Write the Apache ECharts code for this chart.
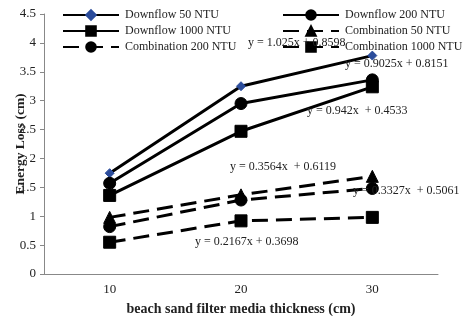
<!DOCTYPE html>
<html>
<head>
<meta charset="utf-8">
<script src="https://cdn.jsdelivr.net/npm/echarts@6/dist/echarts.min.js"></script>
<style>html,body{margin:0;padding:0;background:#fff}#c{width:470px;height:316px}</style>
</head>
<body>
<div id="c"></div>
<script>
const categories = ['10', '20', '30'];
const downflow50 = [1.745, 3.25, 3.78];
const downflow200 = [1.57, 2.95, 3.36];
const downflow1000 = [1.36, 2.47, 3.24];
const combination50 = [0.98, 1.37, 1.69];
const combination200 = [0.82, 1.28, 1.48];
const combination1000 = [0.55, 0.92, 0.98];
const seriesNames = ['Downflow 50 NTU', 'Downflow 200 NTU', 'Downflow 1000 NTU', 'Combination 50 NTU', 'Combination 200 NTU', 'Combination 1000 NTU'];
const equations = ['y = 1.025x + 0.8598', 'y = 0.9025x + 0.8151', 'y = 0.942x  + 0.4533', 'y = 0.3564x  + 0.6119', 'y = 0.3327x  + 0.5061', 'y = 0.2167x + 0.3698'];
const yTicks = {min: 0, max: 4.5, interval: 0.5};

const FONT = '"Liberation Serif", "Times New Roman", serif';
const chart = echarts.init(document.getElementById('c'), null, {renderer: 'canvas'});

function mk(name, data, symbol, size, dashed, color) {
  return {
    name, type: 'line', data, symbol, symbolSize: size,
    lineStyle: {color: '#000', width: 3, type: dashed ? [16, 8] : 'solid'},
    itemStyle: {color: color || '#000', borderColor: color || '#000', borderWidth: 1},
    emphasis: {disabled: true}, animation: false, z: 3
  };
}

const eqPos = [[248, 44], [345, 65], [307, 112], [230, 168], [353, 192], [195, 243]];

chart.setOption({
  animation: false,
  grid: {left: 44, right: 32, top: 14, bottom: 42, outerBoundsMode: 'none', containLabel: false},
  xAxis: {
    type: 'category', data: categories, boundaryGap: true,
    axisLine: {lineStyle: {color: '#888', width: 1}},
    axisTick: {show: false},
    axisLabel: {color: '#222', fontFamily: FONT, fontSize: 13, margin: 9},
    name: 'beach sand filter media thickness (cm)', nameLocation: 'middle', nameGap: 28, nameMoveOverlap: false,
    nameTextStyle: {color: '#222', fontFamily: FONT, fontSize: 14, fontWeight: 'bold'}
  },
  yAxis: {
    type: 'value', min: yTicks.min, max: yTicks.max, interval: yTicks.interval,
    axisLine: {show: true, lineStyle: {color: '#888', width: 1}},
    axisTick: {show: true, length: 4, lineStyle: {color: '#888'}},
    splitLine: {show: false},
    axisLabel: {color: '#222', fontFamily: FONT, fontSize: 13, margin: 8},
    name: 'Energy Loss (cm)', nameLocation: 'middle', nameGap: 16, nameMoveOverlap: false,
    nameTextStyle: {color: '#222', fontFamily: FONT, fontSize: 13.5, fontWeight: 'bold'}
  },
  legend: [
    {data: [seriesNames[0], seriesNames[2], seriesNames[4]], orient: 'vertical', left: 62, top: 9, padding: 0,
     itemWidth: 56, itemHeight: 12, itemGap: 4, textStyle: {color: '#222', fontFamily: FONT, fontSize: 12, padding: [0, 0, 0, 1]}},
    {data: [seriesNames[1], seriesNames[3], seriesNames[5]], orient: 'vertical', left: 282, top: 9, padding: 0,
     itemWidth: 56, itemHeight: 12, itemGap: 4, textStyle: {color: '#222', fontFamily: FONT, fontSize: 12, padding: [0, 0, 0, 1]}}
  ],
  graphic: equations.map((t, i) => ({
    type: 'text', left: eqPos[i][0], top: eqPos[i][1] - 7, z: 10,
    style: {text: t, fill: '#222', font: '12px ' + FONT}
  })),
  series: [
    mk(seriesNames[0], downflow50, 'diamond', 9, false, '#2b4c9b'),
    mk(seriesNames[1], downflow200, 'circle', 12, false),
    mk(seriesNames[2], downflow1000, 'rect', 12, false),
    mk(seriesNames[3], combination50, 'triangle', 12, true),
    mk(seriesNames[4], combination200, 'circle', 12, true),
    mk(seriesNames[5], combination1000, 'rect', 12, true)
  ]
});
</script>
</body>
</html>
